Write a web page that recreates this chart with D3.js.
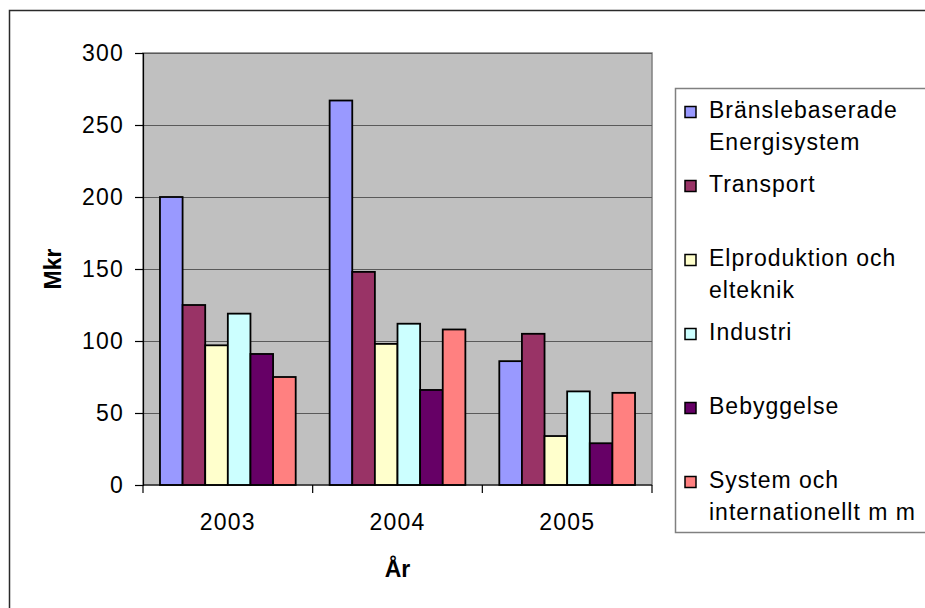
<!DOCTYPE html>
<html>
<head>
<meta charset="utf-8">
<script src="https://cdn.jsdelivr.net/npm/d3@7"></script>
<style>
  html, body { margin: 0; padding: 0; background: #ffffff; }
  svg { display: block; font-family: "Liberation Sans", Arial, sans-serif; }
</style>
</head>
<body>
<svg id="chart" width="925" height="608"></svg>
<script>
const years = ["2003", "2004", "2005"];
const seriesNames = [
  ["Bränslebaserade", "Energisystem"],
  ["Transport"],
  ["Elproduktion och", "elteknik"],
  ["Industri"],
  ["Bebyggelse"],
  ["System och", "internationellt m m"]
];
const seriesColors = ["#9999FF", "#993366", "#FFFFCC", "#CCFFFF", "#660066", "#FF8080"];
const bransle      = [200, 267, 86];
const transport    = [125, 148, 105];
const elproduktion = [97, 98, 34];
const industri     = [119, 112, 65];
const bebyggelse   = [91, 66, 29];
const systemIntl   = [75, 108, 64];
const yTicks = [0, 50, 100, 150, 200, 250, 300];
const yTitle = "Mkr";
const xTitle = "År";

const seriesValues = [bransle, transport, elproduktion, industri, bebyggelse, systemIntl];

const svg = d3.select("#chart");
const FS = 23;

// outer chart border
svg.append("rect")
  .attr("x", 9.5).attr("y", 10.5).attr("width", 1000).attr("height", 700)
  .attr("fill", "#ffffff").attr("stroke", "#2a2a2a").attr("stroke-width", 1.5);

const plot = { left: 143, right: 652, top: 53, bottom: 485 };

const x0 = d3.scaleBand().domain(years).range([plot.left, plot.right]).paddingInner(0).paddingOuter(0);
// Excel gap width 150%: bars occupy 6/(6+1.5) of each category
const groupPad = x0.bandwidth() * (1.5 / 7.5) / 2;
const x1 = d3.scaleBand().domain(d3.range(seriesValues.length))
  .range([groupPad, x0.bandwidth() - groupPad]).padding(0);

const y = d3.scaleLinear().domain([0, 300]).range([plot.bottom, plot.top]);

// plot background
svg.append("rect")
  .attr("x", plot.left).attr("y", plot.top)
  .attr("width", plot.right - plot.left).attr("height", plot.bottom - plot.top)
  .attr("fill", "#C0C0C0").attr("stroke", "#808080").attr("stroke-width", 1.5);

// gridlines
svg.append("g").selectAll("line")
  .data(yTicks.filter(t => t > 0))
  .join("line")
  .attr("x1", plot.left).attr("x2", plot.right)
  .attr("y1", d => Math.round(y(d)) + 0.5).attr("y2", d => Math.round(y(d)) + 0.5)
  .attr("stroke", "#5a5a5a").attr("stroke-width", 1.2);

// bars
const groups = svg.append("g").selectAll("g")
  .data(years)
  .join("g")
  .attr("transform", d => `translate(${x0(d)},0)`);

groups.selectAll("rect")
  .data((yr, yi) => seriesValues.map((vals, si) => ({ si, v: vals[yi] })))
  .join("rect")
  .attr("x", d => x1(d.si))
  .attr("y", d => y(d.v))
  .attr("width", x1.bandwidth())
  .attr("height", d => y(0) - y(d.v))
  .attr("fill", d => seriesColors[d.si])
  .attr("stroke", "#000000").attr("stroke-width", 1.8);

// y axis
const yAxis = d3.axisLeft(y).tickValues(yTicks).tickSize(8).tickPadding(11).tickFormat(d3.format("d"));
const gy = svg.append("g").attr("transform", `translate(${plot.left},0)`).call(yAxis);
gy.select(".domain").attr("stroke", "#000").attr("stroke-width", 1.2);
gy.selectAll(".tick line").attr("stroke", "#000").attr("stroke-width", 1.2);
gy.selectAll(".tick text").attr("font-size", FS).attr("font-family", "Liberation Sans, Arial, sans-serif")
  .attr("fill", "#000").attr("letter-spacing", 1.2);

// x axis with ticks at category boundaries
const gx = svg.append("g").attr("transform", `translate(0,${plot.bottom})`);
gx.append("line").attr("x1", plot.left).attr("x2", plot.right).attr("y1", 0).attr("y2", 0)
  .attr("stroke", "#000").attr("stroke-width", 1.2);
const boundaries = years.map(d => x0(d)).concat([x0(years[years.length - 1]) + x0.bandwidth()]);
gx.selectAll("line.tk").data(boundaries).join("line").attr("class", "tk")
  .attr("x1", d => d).attr("x2", d => d).attr("y1", 0).attr("y2", 8)
  .attr("stroke", "#000").attr("stroke-width", 1.2);
gx.selectAll("text").data(years).join("text")
  .attr("x", d => x0(d) + x0.bandwidth() / 2)
  .attr("y", 45)
  .attr("text-anchor", "middle")
  .attr("font-size", FS).attr("fill", "#000").attr("letter-spacing", 1.2)
  .text(d => d);

// axis titles
svg.append("text")
  .attr("x", (plot.left + plot.right) / 2).attr("y", 577)
  .attr("text-anchor", "middle").attr("font-size", FS).attr("font-weight", "bold")
  .text(xTitle);
svg.append("text")
  .attr("transform", `translate(61,${(plot.top + plot.bottom) / 2}) rotate(-90)`)
  .attr("text-anchor", "middle").attr("font-size", FS).attr("font-weight", "bold")
  .text(yTitle);

// legend
const legend = svg.append("g");
legend.append("rect")
  .attr("x", 675.5).attr("y", 88.5).attr("width", 400).attr("height", 444)
  .attr("fill", "#ffffff").attr("stroke", "#808080").attr("stroke-width", 1.5);

const entryY = d3.scaleLinear().domain([0, seriesNames.length - 1]).range([118, 488]);
const items = legend.selectAll("g.item").data(seriesNames).join("g").attr("class", "item")
  .attr("transform", (d, i) => `translate(0,${entryY(i)})`);
items.append("rect")
  .attr("x", 685).attr("y", -11.5).attr("width", 11).attr("height", 11)
  .attr("fill", (d, i) => seriesColors[i]).attr("stroke", "#000").attr("stroke-width", 1.5);
items.selectAll("text").data(d => d).join("text")
  .attr("x", 709).attr("y", (d, j) => j * 32)
  .attr("font-size", FS).attr("fill", "#000").attr("letter-spacing", 1)
  .text(d => d);
</script>
</body>
</html>
